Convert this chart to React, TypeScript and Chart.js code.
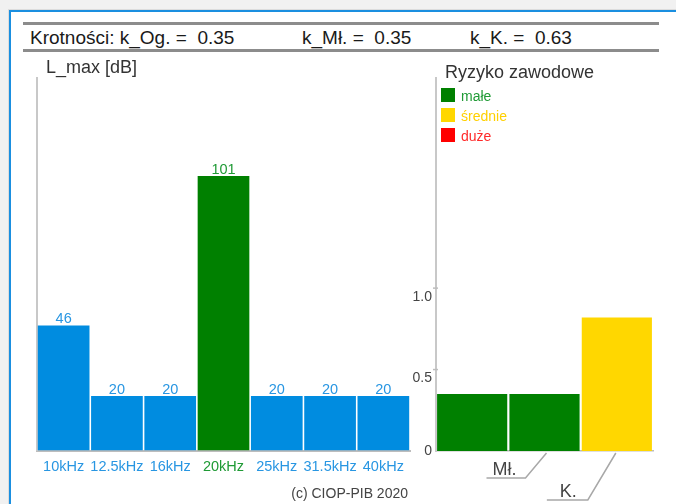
import { useEffect, useRef } from 'react';
import Chart from 'chart.js/auto';

// L_max per frequency band
const freqLabels = ['10kHz', '12.5kHz', '16kHz', '20kHz', '25kHz', '31.5kHz', '40kHz'];
const lmaxValues = [46, 20, 20, 101, 20, 20, 20];

// risk (krotność) bars
const riskCategories = ['Og.', 'Mł.', 'K.'];
const riskAxisLabels = ['', 'Mł.', 'K.'];
const riskValues = [0.35, 0.35, 0.82];
const riskTicks = [0, 0.5, 1.0];

const legendLabels = ['małe', 'średnie', 'duże'];
const krotnosci = [
  { name: 'k_Og.', value: '0.35' },
  { name: 'k_Mł.', value: '0.35' },
  { name: 'k_K.', value: '0.63' },
];

const FONT = '"Liberation Sans", Arial, sans-serif';
const BLUE = '#008ce0';
const BLUE_TXT = '#2896e2';
const GREEN = '#008000';
const GREEN_TXT = '#1f9a35';
const GOLD = '#ffd700';
const RED = '#ff0000';

const maxIdx = lmaxValues.indexOf(Math.max(...lmaxValues));
const riskColor = (v: number) => (v < 0.5 ? GREEN : v < 1 ? GOLD : RED);

const LmaxChart = () => {
  const ref = useRef<HTMLCanvasElement | null>(null);
  useEffect(() => {
    if (!ref.current) return;
    const valueLabels = {
      id: 'valueLabels',
      afterDatasetsDraw(chart: any) {
        const ctx = chart.ctx;
        const meta = chart.getDatasetMeta(0);
        ctx.save();
        ctx.font = `14.5px ${FONT}`;
        ctx.textAlign = 'center';
        ctx.textBaseline = 'alphabetic';
        meta.data.forEach((bar: any, i: number) => {
          ctx.fillStyle = i === maxIdx ? GREEN_TXT : BLUE_TXT;
          ctx.fillText(String(lmaxValues[i]), bar.x, bar.y - 2);
        });
        ctx.restore();
      },
    };
    const chart = new Chart(ref.current, {
      type: 'bar',
      data: {
        labels: freqLabels,
        datasets: [{
          data: lmaxValues,
          backgroundColor: lmaxValues.map((_, i) => (i === maxIdx ? GREEN : BLUE)),
          barPercentage: 0.97,
          categoryPercentage: 1,
        }],
      },
      options: {
        responsive: false,
        animation: false,
        layout: { padding: { left: 37, top: 78, right: 10, bottom: 23.5 } },
        plugins: { legend: { display: false }, tooltip: { enabled: false } },
        scales: {
          x: {
            grid: { display: false, drawTicks: false },
            border: { color: '#bdbdbd', width: 2 },
            ticks: {
              padding: 8,
              font: { family: FONT, size: 14.5 },
              color: freqLabels.map((_, i) => (i === maxIdx ? GREEN_TXT : BLUE_TXT)),
              maxRotation: 0,
              autoSkip: false,
            },
            afterFit: (s: any) => { s.height = 30; },
          },
          y: {
            min: 0,
            max: 137,
            grid: { display: false, drawTicks: false },
            border: { color: '#c8c8c8', width: 2 },
            ticks: { display: false },
            afterFit: (s: any) => { s.width = 0; },
          },
        },
      },
      plugins: [valueLabels],
    });
    return () => chart.destroy();
  }, []);
  return <canvas ref={ref} width={420} height={504} style={{ position: 'absolute', left: 0, top: 0 }} />;
};

const RiskChart = () => {
  const ref = useRef<HTMLCanvasElement | null>(null);
  useEffect(() => {
    if (!ref.current) return;
    // leader lines under the bars: [x0, y0, x1, y1, x2, textRight, textBase] relative to bar centre / axis
    const leaders: Record<number, number[]> = {
      1: [2, 2, -19, 27, -58, -28, 24],
      2: [-1, 2, -29, 49, -70, -40, 46],
    };
    const axisDecor = {
      id: 'axisDecor',
      afterDraw(chart: any) {
        const ctx = chart.ctx;
        const y = chart.scales.y;
        const x = chart.scales.x;
        const ax = chart.chartArea.left;
        ctx.save();
        ctx.font = `14px ${FONT}`;
        ctx.fillStyle = '#444';
        ctx.textAlign = 'right';
        ctx.textBaseline = 'middle';
        ctx.strokeStyle = '#bdbdbd';
        ctx.lineWidth = 1.5;
        riskTicks.forEach((v) => {
          const py = y.getPixelForValue(v);
          ctx.fillText(v === 0 ? '0' : v.toFixed(1), ax - 4, py + (v === 0 ? 0 : 9));
          if (v !== 0) {
            ctx.beginPath();
            ctx.moveTo(ax - 3, py);
            ctx.lineTo(ax + 2, py);
            ctx.stroke();
          }
        });
        const base = chart.chartArea.bottom;
        ctx.font = `18px ${FONT}`;
        ctx.textBaseline = 'alphabetic';
        ctx.strokeStyle = '#a8a8a8';
        ctx.lineWidth = 1.5;
        riskAxisLabels.forEach((lab, i) => {
          const g = leaders[i];
          if (!lab || !g) return;
          const cx = x.getPixelForValue(i);
          ctx.beginPath();
          ctx.moveTo(cx + g[0], base + g[1]);
          ctx.lineTo(cx + g[2], base + g[3]);
          ctx.lineTo(cx + g[4], base + g[3]);
          ctx.stroke();
          ctx.fillText(lab, cx + g[5], base + g[6]);
        });
        ctx.restore();
      },
    };
    const chart = new Chart(ref.current, {
      type: 'bar',
      data: {
        labels: riskCategories,
        datasets: [{
          data: riskValues,
          backgroundColor: riskValues.map(riskColor),
          barPercentage: 0.97,
          categoryPercentage: 1,
        }],
      },
      options: {
        responsive: false,
        animation: false,
        layout: { padding: { left: 0, top: 78, right: 23, bottom: 33 } },
        plugins: { legend: { display: false }, tooltip: { enabled: false } },
        scales: {
          x: {
            grid: { display: false, drawTicks: false },
            border: { color: '#bdbdbd', width: 1.5 },
            ticks: { display: false },
            afterFit: (s: any) => { s.height = 20; },
          },
          y: {
            min: 0,
            max: 2.29,
            grid: { display: false, drawTicks: false },
            border: { color: '#c8c8c8', width: 2 },
            ticks: { display: false },
            afterFit: (s: any) => { s.width = 36; },
          },
        },
      },
      plugins: [axisDecor],
    });
    return () => chart.destroy();
  }, []);
  return <canvas ref={ref} width={276} height={504} style={{ position: 'absolute', left: 400, top: 0 }} />;
};

const txt = (extra: any) => ({
  position: 'absolute' as const,
  fontFamily: FONT,
  lineHeight: 1,
  whiteSpace: 'pre' as const,
  margin: 0,
  ...extra,
});

export default function App() {
  const legendColors = [GREEN, GOLD, RED];
  const legendText = [GREEN_TXT, '#ffd000', '#ff2a2a'];
  const kLeft = [30, 302, 470];
  return (
    <div style={{ position: 'fixed', inset: 0, background: '#f1f1f1', overflow: 'hidden' }}>
      <div style={{ position: 'absolute', left: 8, top: 9, width: 700, height: 600, border: '1px solid #dcdcdc' }} />
      <div style={{ position: 'absolute', left: 9, top: 10, width: 700, height: 600, borderLeft: '2px solid #1a8fe0', borderTop: '2px solid #1a8fe0', background: '#fff' }} />
      <div style={{ position: 'absolute', left: 23, top: 22, width: 636, height: 3, background: '#8c8c8c' }} />
      <div style={{ position: 'absolute', left: 23, top: 49, width: 636, height: 3, background: '#8c8c8c' }} />
      {krotnosci.map((k, i) => (
        <span key={k.name} style={txt({ left: kLeft[i], top: 28, fontSize: 19, color: '#1a1a1a' })}>
          {(i === 0 ? 'Krotności: ' : '') + `${k.name} =  ${k.value}`}
        </span>
      ))}
      <LmaxChart />
      <RiskChart />
      <span style={txt({ left: 46, top: 57.5, fontSize: 18, color: '#333' })}>L_max [dB]</span>
      <span style={txt({ left: 445, top: 62.5, fontSize: 18, color: '#333' })}>Ryzyko zawodowe</span>
      {legendLabels.map((l, i) => (
        <div key={l}>
          <div style={{ position: 'absolute', left: 441, top: 88 + i * 20, width: 14, height: 14, background: legendColors[i] }} />
          <span style={txt({ left: 461, top: 89 + i * 20, fontSize: 14, color: legendText[i] })}>{l}</span>
        </div>
      ))}
      <span style={txt({ right: 676 - 408, top: 486, fontSize: 14, color: '#444' })}>(c) CIOP-PIB 2020</span>
    </div>
  );
}
